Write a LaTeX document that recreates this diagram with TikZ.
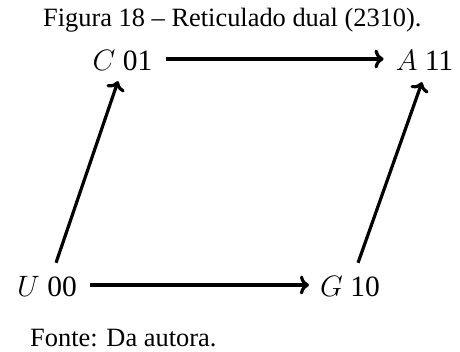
\RequirePackage{fix-cm}
\documentclass[tikz,border=0pt]{standalone}
\usepackage{fontspec}
\setmainfont{Liberation Serif}
\usetikzlibrary{arrows.meta}
\begin{document}
\begin{tikzpicture}[x=1pt,y=-1pt,
  caption/.style={inner sep=0pt,font=\fontsize{26.4}{30}\selectfont},
  vert/.style={inner sep=0pt,text height=23.4pt,text depth=0pt,font=\fontsize{29.5}{34}\selectfont},
  arr/.style={line width=3.2pt,-{Computer Modern Rightarrow[scale=1.05]}}]
\useasboundingbox (0,0) rectangle (460,352);
\node[caption,anchor=base west] (title) at (43,26.5) {Figura 18 – Reticulado dual (2310).};
\node[caption,anchor=base west] (fonte) at (30,346) {Fonte: Da autora.};
\node[vert,anchor=base] (C) at (122.5,70.7) {$C$ 01};
\node[vert,anchor=base] (A) at (424.5,70.7) {$A$ 11};
\node[vert,anchor=base] (U) at (47,296.7) {$U$ 00};
\node[vert,anchor=base] (G) at (350,296.7) {$G$ 10};
\draw[arr,shorten <=13pt,shorten >=12pt] (C.east) -- (A.west);
\draw[arr,shorten <=13pt,shorten >=11pt] (U.east) -- (G.west);
\draw[arr,shorten <=10.9pt,shorten >=10.9pt] ([xshift=5.5pt]U.north) -- ([xshift=-1pt]C.south);
\draw[arr,shorten <=10.9pt,shorten >=12pt] ([xshift=4.4pt]G.north) -- ([xshift=1.5pt]A.south);
\end{tikzpicture}
\end{document}
